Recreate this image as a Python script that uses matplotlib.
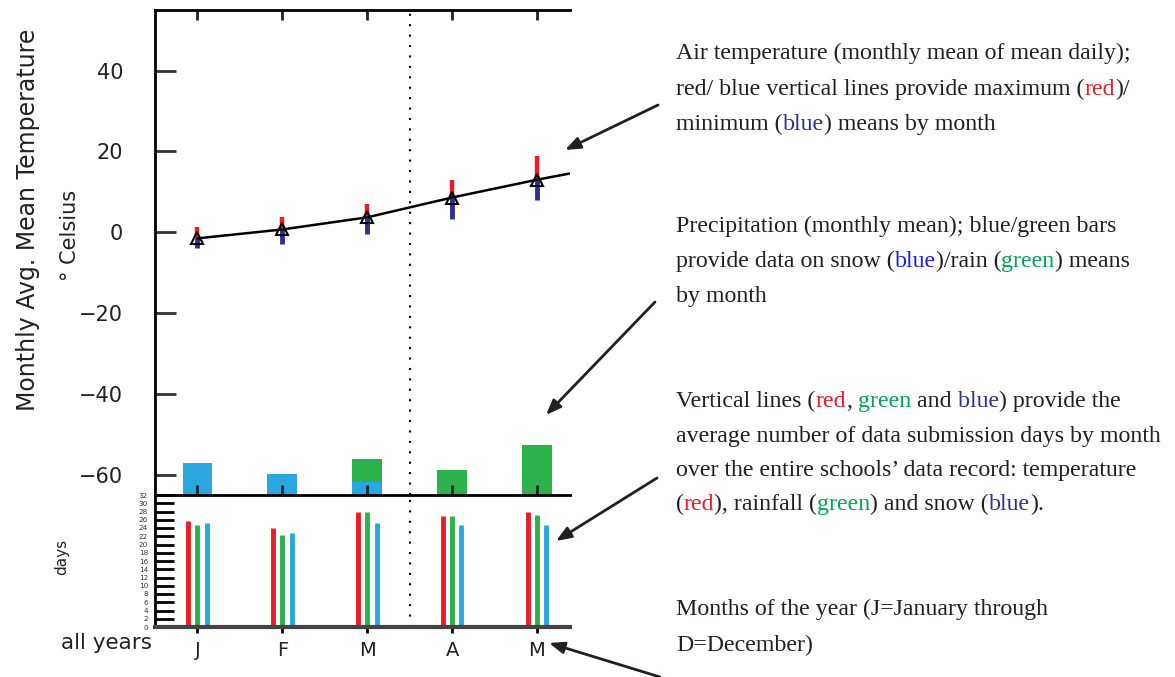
import matplotlib
matplotlib.use("Agg")
import matplotlib.pyplot as plt
import numpy as np

# ---- data ----
months = ['J', 'F', 'M', 'A', 'M']
# monthly mean of mean daily air temperature (deg C); last value is June (only the line reaches it)
temp_mean = [-1.5, 0.7, 3.7, 8.6, 13.0, 17.0]
temp_max = [1.3, 3.8, 7.1, 13.0, 18.8]
temp_min = [-3.8, -2.8, -0.3, 3.2, 7.9]
# precipitation means (mm, hidden scale)
snow = [39, 26, 16, 0, 0]
rain = [0, 0, 29, 31, 62]
# average number of data submission days
days_temp = [25.6, 23.9, 27.8, 26.8, 27.8]
days_rain = [24.8, 22.2, 27.8, 26.8, 27.2]
days_snow = [25.1, 22.7, 25.2, 24.8, 24.8]

RED = '#ed1c24'
DBLUE = '#2e3192'
SKY = '#29a8e0'
GREEN = '#2bb24c'
INK = '#231f20'

W, H = 1175, 677
fig = plt.figure(figsize=(W / 100, H / 100), dpi=100)
fig.patch.set_facecolor('white')

ax1 = fig.add_axes([155 / W, 1 - 495 / H, 415 / W, 485 / H])
ax2 = fig.add_axes([155 / W, 1 - 627 / H, 415 / W, 132 / H], sharex=ax1)

x = np.arange(len(temp_mean))
xm = np.arange(len(months))

# precipitation bars on a hidden scale (drawn underneath the temperature axes)
axp = ax1.twinx()
axp.set_ylim(0, 600)
axp.bar(xm, snow, width=0.35, color=SKY)
axp.bar(xm, rain, width=0.35, bottom=snow, color=GREEN)
axp.set_yticks([])
for s in axp.spines.values():
    s.set_visible(False)
ax1.set_zorder(axp.get_zorder() + 1)
ax1.patch.set_visible(False)

# ---- upper panel: temperature ----
ax1.vlines(xm, temp_mean[:len(months)], temp_max, color=RED, lw=3.2, zorder=3)
ax1.vlines(xm, temp_min, temp_mean[:len(months)], color=DBLUE, lw=3.5, zorder=3)
ax1.plot(x, temp_mean, color='k', lw=1.8, zorder=4)
ax1.plot(xm, temp_mean[:len(months)], ls='none', marker='^', ms=8, mfc='none',
         mec='k', mew=1.5, zorder=5)
ax1.axvline(2.5, color='k', ls=(0, (1, 4)), lw=1.5)

ax1.set_xlim(-0.5, 4.39)
ax1.set_ylim(-65, 55)
ax1.set_yticks([-60, -40, -20, 0, 20, 40])
ax1.set_yticklabels(['\u221260', '\u221240', '\u221220', '0', '20', '40'])
ax1.tick_params(axis='y', direction='in', length=15, width=2, pad=23,
                labelsize=15, colors='#333333', labelcolor='#222222')
ax1.set_xticks(xm)
ax1.tick_params(axis='x', direction='in', top=True, bottom=True, length=7, width=2,
                labelbottom=False, colors='#222222')
ax1.spines['right'].set_visible(False)
for s in ['left', 'top', 'bottom']:
    ax1.spines[s].set_linewidth(2)

# ---- lower panel: submission days ----
off = 0.11
ax2.vlines(xm - off, 0, days_temp, color=RED, lw=3.5)
ax2.vlines(xm, 0, days_rain, color=GREEN, lw=3.5)
ax2.vlines(xm + off, 0, days_snow, color=SKY, lw=3.5)
ax2.axvline(2.5, color='k', ls=(0, (1, 4)), lw=1.5)
ax2.set_ylim(0, 32)
ax2.set_yticks(np.arange(0, 33, 2))
ax2.set_yticklabels([str(v) for v in np.arange(0, 33, 2)])
ax2.tick_params(axis='y', direction='in', length=14, width=2, pad=5, labelsize=5.2,
                labelcolor='#333333')
ax2.set_xticks(xm)
ax2.set_xticklabels(months)
ax2.tick_params(axis='x', direction='inout', length=8, width=2, pad=6, labelsize=14,
                labelcolor='#222222')
ax2.spines['right'].set_visible(False)
ax2.spines['top'].set_visible(False)
ax2.spines['left'].set_linewidth(2)
ax2.spines['bottom'].set_linewidth(3)
ax2.spines['bottom'].set_color('#444444')

# ---- axis titles ----
fig.text(28 / W, 1 - 220 / H, 'Monthly Avg. Mean Temperature', rotation=90,
         ha='center', va='center', fontsize=17, color='#222222')
fig.text(70 / W, 1 - 235 / H, '\u00b0 Celsius', rotation=90,
         ha='center', va='center', fontsize=15, color='#222222')
fig.text(62 / W, 1 - 557 / H, 'days', rotation=90,
         ha='center', va='center', fontsize=11, color='#222222')
fig.text(152 / W, 1 - 643 / H, 'all years', ha='right', va='center',
         fontsize=15.5, color='#222222')

# ---- explanatory text on the right ----
rend = fig.canvas.get_renderer()


def rich_line(x_px, y_px, parts, size=17.2):
    for s, c in parts:
        t = fig.text(x_px / W, 1 - y_px / H, s, color=c, fontsize=size,
                     family='Liberation Serif', ha='left', va='baseline')
        x_px += t.get_window_extent(renderer=rend).width


BLUE2 = '#1c1cf0'
TG = '#00a651'
rich_line(676, 59, [('Air temperature (monthly mean of mean daily);', INK)])
rich_line(676, 95, [('red/ blue vertical lines provide maximum (', INK), ('red', RED), (')/', INK)])
rich_line(676, 130, [('minimum (', INK), ('blue', DBLUE), (') means by month', INK)])

rich_line(676, 232, [('Precipitation (monthly mean); blue/green bars', INK)])
rich_line(676, 267, [('provide data on snow (', INK), ('blue', BLUE2), (')/rain (', INK),
                     ('green', TG), (') means', INK)])
rich_line(676, 302, [('by month', INK)])

rich_line(676, 407, [('Vertical lines (', INK), ('red', RED), (',', INK), (' green', TG),
                     (' and', INK), (' blue', DBLUE), (') provide the', INK)])
rich_line(676, 442, [('average number of data submission days by month', INK)])
rich_line(676, 476, [('over the entire schools\u2019 data record: temperature', INK)])
rich_line(676, 510, [('(', INK), ('red', RED), ('), rainfall (', INK), ('green', TG),
                     (') and snow (', INK), ('blue', DBLUE), (').', INK)])

rich_line(676, 615, [('Months of the year (J=January through', INK)])
rich_line(676, 651, [('D=December)', INK)])

# ---- arrows from the notes to the chart ----
arrows = [((658, 105), (565, 150)), ((655, 302), (546, 415)),
          ((657, 478), (556, 541)), ((660, 677), (549, 643))]
for (tx, ty), (hx, hy) in arrows:
    fig.add_artist(plt.Annotation(
        '', xy=(hx, H - hy), xytext=(tx, H - ty), xycoords='figure pixels',
        textcoords='figure pixels',
        arrowprops=dict(arrowstyle='-|>,head_length=0.9,head_width=0.35',
                        lw=2, color=INK, shrinkA=0, shrinkB=0)))

fig.savefig('out.png', dpi=100)
